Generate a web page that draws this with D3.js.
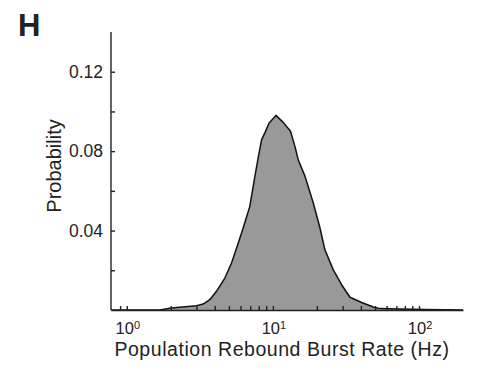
<!DOCTYPE html>
<html>
<head>
<meta charset="utf-8">
<script src="https://cdn.jsdelivr.net/npm/d3@7"></script>
<style>
  body { margin: 0; background: #fff; }
  svg text { font-family: "Liberation Sans", Arial, Helvetica, sans-serif; fill: #222; }
  .axis path, .axis line { stroke: #222; stroke-width: 1.4; }
</style>
</head>
<body>
<svg id="chart" width="477" height="372"></svg>
<script>
// burst rate (Hz) vs probability
const rates = [0.78, 1.68, 2.02, 3.0, 3.33, 3.7, 4.11, 4.69, 5.21, 5.69, 6.26, 6.95, 7.53, 7.93, 8.37, 8.81,
  9.43, 10.49, 11.77, 13.2, 14.15, 14.9, 16.6, 18.9, 21.0, 22.7, 25.9, 29.6, 33.7, 40.5, 48.7, 54.1, 74.1, 110, 200];
const probs = [0, 0, 0.0010, 0.0022, 0.0030, 0.0052, 0.0094, 0.0161, 0.0237, 0.0320, 0.0413, 0.0522, 0.0673, 0.0766,
  0.0858, 0.0892, 0.0942, 0.0980, 0.0945, 0.0900, 0.0824, 0.0757, 0.0673, 0.0539, 0.0413, 0.0303, 0.0202, 0.0126,
  0.0064, 0.0038, 0.0015, 0.0007, 0.0005, 0.0002, 0];

const xMinorTicks = [0.9, 1, 2, 3, 4, 5, 6, 7, 8, 9, 10, 20, 30, 40, 50, 60, 70, 80, 90, 100];
const xLabelTicks = [{v: 1, exp: '0'}, {v: 10, exp: '1'}, {v: 100, exp: '2'}];
const yTicks = [0.02, 0.04, 0.06, 0.08, 0.10, 0.12];
const yLabelTicks = [0.04, 0.08, 0.12];

const svg = d3.select('#chart');
const margin = {left: 111, right: 463, top: 32, bottom: 310};

const x = d3.scaleLog().domain([0.78, 200]).range([margin.left, margin.right]);
const y = d3.scaleLinear().domain([0, 0.14]).range([margin.bottom, margin.top]);

const pts = rates.map((r, i) => [r, probs[i]]);

// filled density
svg.append('path')
  .datum(pts)
  .attr('d', d3.area().x(d => x(d[0])).y0(y(0)).y1(d => y(d[1])))
  .attr('fill', '#999999');
svg.append('path')
  .datum(pts)
  .attr('d', d3.line().x(d => x(d[0])).y(d => y(d[1])))
  .attr('fill', 'none').attr('stroke', '#111').attr('stroke-width', 1.5)
  .attr('stroke-linejoin', 'round');

/* X AXIS */
const xAxis = svg.append('g').attr('class', 'axis')
  .attr('transform', `translate(0,${margin.bottom})`)
  .call(d3.axisBottom(x).tickValues(xMinorTicks).tickSize(-4).tickSizeOuter(0).tickFormat(''));
xAxis.selectAll('text').remove();

const xLab = svg.selectAll('text.xlab').data(xLabelTicks).enter()
  .append('text').attr('class', 'xlab')
  .attr('x', d => x(d.v) + 1).attr('y', margin.bottom + 24)
  .attr('text-anchor', 'middle').style('font-size', '16.5px');
xLab.append('tspan').text('10');
xLab.append('tspan').attr('dy', -5.5).style('font-size', '11px').text(d => d.exp);

/* Y AXIS */
const yAxis = svg.append('g').attr('class', 'axis')
  .attr('transform', `translate(${margin.left},0)`)
  .call(d3.axisRight(y).tickValues(yTicks).tickSize(4).tickSizeOuter(0).tickFormat(''));
yAxis.select('path.domain').attr('d', `M0,${margin.top}V${margin.bottom}`);
yAxis.selectAll('text').remove();

svg.selectAll('text.ylab').data(yLabelTicks).enter()
  .append('text').attr('class', 'ylab')
  .attr('x', margin.left - 8).attr('y', d => y(d)).attr('dy', '0.36em')
  .attr('text-anchor', 'end').style('font-size', '17.5px')
  .text(d => d3.format('.2f')(d));

// titles
svg.append('text')
  .attr('x', 282).attr('y', 356)
  .attr('text-anchor', 'middle').style('font-size', '19.5px').style('letter-spacing', '0.55px')
  .text('Population Rebound Burst Rate (Hz)');
svg.append('text')
  .attr('transform', 'translate(61,166) rotate(-90)')
  .attr('text-anchor', 'middle').style('font-size', '20px')
  .text('Probability');
svg.append('text')
  .attr('x', 18).attr('y', 36)
  .style('font-size', '31px').style('font-weight', 'bold')
  .text('H');
</script>
</body>
</html>
